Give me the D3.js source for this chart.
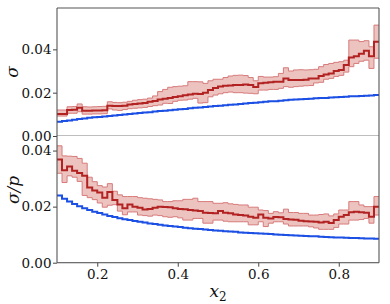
<!DOCTYPE html>
<html><head><meta charset="utf-8">
<script src="https://cdn.jsdelivr.net/npm/d3@7"></script>
<style>
html,body{margin:0;padding:0;background:#fff;}
svg{display:block;}
text{font-family:"DejaVu Serif",serif;fill:#111;}
</style></head>
<body><svg id="chart" width="390" height="304"></svg>
<script>
// ---- data (64 bins of width 0.0125 from 0.1 to 0.9) ----
const xMin = 0.1, xMax = 0.9, nBins = 64;
const xTicks = [0.2, 0.4, 0.6, 0.8];
const xTickLabels = ["0.2", "0.4", "0.6", "0.8"];
const yTicks = [0, 0.02, 0.04];
const yTickLabels = ["0.00", "0.02", "0.04"];

// top panel: sigma
const sigmaRed = [0.0102,0.0102,0.0120,0.0121,0.0130,0.0117,0.0117,0.0118,0.0118,0.0119,
  0.0140,0.0138,0.0139,0.0140,0.0145,0.0148,0.0150,0.0152,0.0158,0.0162,
  0.0168,0.0172,0.0176,0.0180,0.0184,0.0188,0.0192,0.0195,0.0194,0.0200,
  0.0212,0.0222,0.0228,0.0232,0.0233,0.0235,0.0236,0.0238,0.0235,0.0226,
  0.0244,0.0246,0.0248,0.0250,0.0251,0.0266,0.0258,0.0258,0.0259,0.0260,
  0.0266,0.0266,0.0277,0.0284,0.0289,0.0300,0.0305,0.0328,0.0362,0.0368,
  0.0380,0.0394,0.0368,0.0435];
const sigmaRedHi = [0.0120,0.0120,0.0135,0.0136,0.0148,0.0135,0.0134,0.0135,0.0136,0.0137,
  0.0158,0.0155,0.0154,0.0156,0.0160,0.0165,0.0168,0.0170,0.0175,0.0185,
  0.0205,0.0215,0.0225,0.0228,0.0230,0.0232,0.0251,0.0251,0.0250,0.0243,
  0.0255,0.0262,0.0262,0.0270,0.0277,0.0280,0.0281,0.0279,0.0270,0.0255,
  0.0275,0.0272,0.0272,0.0274,0.0289,0.0315,0.0300,0.0305,0.0306,0.0305,
  0.0306,0.0308,0.0320,0.0330,0.0335,0.0340,0.0343,0.0350,0.0443,0.0443,
  0.0436,0.0440,0.0412,0.0512];
const sigmaRedLo = [0.0092,0.0092,0.0105,0.0105,0.0112,0.0101,0.0101,0.0102,0.0102,0.0103,
  0.0125,0.0120,0.0118,0.0122,0.0126,0.0128,0.0130,0.0132,0.0136,0.0140,
  0.0143,0.0151,0.0150,0.0160,0.0165,0.0166,0.0170,0.0174,0.0152,0.0154,
  0.0181,0.0189,0.0195,0.0200,0.0203,0.0200,0.0200,0.0198,0.0197,0.0195,
  0.0212,0.0212,0.0215,0.0215,0.0220,0.0228,0.0225,0.0228,0.0230,0.0232,
  0.0233,0.0245,0.0248,0.0262,0.0266,0.0275,0.0280,0.0295,0.0320,0.0335,
  0.0345,0.0350,0.0312,0.0359];
const sigmaBlue = [0.0066,0.0069,0.0072,0.0075,0.0078,0.0081,0.0084,0.0086,0.0088,0.0090,
  0.0092,0.0095,0.0097,0.0099,0.0102,0.0104,0.0106,0.0108,0.0110,0.0113,
  0.0115,0.0117,0.0119,0.0121,0.0123,0.0125,0.0128,0.0130,0.0132,0.0134,
  0.0136,0.0138,0.0140,0.0142,0.0144,0.0146,0.0148,0.0150,0.0152,0.0154,
  0.0156,0.0158,0.0160,0.0161,0.0163,0.0165,0.0167,0.0168,0.0170,0.0171,
  0.0172,0.0174,0.0175,0.0176,0.0178,0.0179,0.0180,0.0181,0.0183,0.0184,
  0.0185,0.0186,0.0187,0.0189];

// bottom panel: sigma / p
const relRed = [0.0368,0.0330,0.0343,0.0328,0.0320,0.0310,0.0268,0.0258,0.0250,0.0232,
  0.0252,0.0224,0.0208,0.0194,0.0208,0.0200,0.0196,0.0190,0.0192,0.0196,
  0.0200,0.0199,0.0198,0.0194,0.0192,0.0191,0.0188,0.0186,0.0184,0.0178,
  0.0177,0.0176,0.0184,0.0178,0.0176,0.0172,0.0170,0.0168,0.0164,0.0160,
  0.0172,0.0160,0.0158,0.0163,0.0162,0.0156,0.0154,0.0153,0.0150,0.0148,
  0.0147,0.0146,0.0143,0.0146,0.0142,0.0152,0.0164,0.0170,0.0180,0.0182,
  0.0180,0.0178,0.0164,0.0200];
const relRedHi = [0.0417,0.0381,0.0380,0.0379,0.0372,0.0355,0.0305,0.0289,0.0275,0.0270,
  0.0282,0.0255,0.0242,0.0236,0.0236,0.0236,0.0232,0.0230,0.0228,0.0226,
  0.0224,0.0218,0.0218,0.0221,0.0221,0.0226,0.0226,0.0230,0.0218,0.0218,
  0.0218,0.0212,0.0212,0.0214,0.0210,0.0208,0.0206,0.0206,0.0198,0.0198,
  0.0188,0.0186,0.0176,0.0182,0.0178,0.0191,0.0179,0.0179,0.0176,0.0176,
  0.0170,0.0170,0.0172,0.0174,0.0167,0.0174,0.0188,0.0188,0.0218,0.0218,
  0.0206,0.0200,0.0200,0.0236];
const relRedLo = [0.0319,0.0286,0.0310,0.0305,0.0290,0.0240,0.0232,0.0225,0.0213,0.0198,
  0.0205,0.0207,0.0184,0.0171,0.0181,0.0181,0.0170,0.0168,0.0166,0.0170,
  0.0168,0.0164,0.0162,0.0164,0.0160,0.0152,0.0152,0.0158,0.0158,0.0141,
  0.0141,0.0152,0.0152,0.0148,0.0146,0.0146,0.0146,0.0146,0.0135,0.0135,
  0.0146,0.0129,0.0141,0.0146,0.0146,0.0138,0.0131,0.0131,0.0131,0.0131,
  0.0128,0.0124,0.0119,0.0119,0.0119,0.0126,0.0138,0.0138,0.0152,0.0152,
  0.0154,0.0158,0.0141,0.0170];
const relBlue = [0.0240,0.0228,0.0218,0.0209,0.0201,0.0194,0.0188,0.0182,0.0177,0.0172,
  0.0167,0.0163,0.0159,0.0155,0.0152,0.0149,0.0146,0.0143,0.0140,0.0138,
  0.0135,0.0133,0.0131,0.0129,0.0127,0.0125,0.0123,0.0121,0.0120,0.0118,
  0.0117,0.0115,0.0114,0.0112,0.0111,0.0110,0.0108,0.0107,0.0106,0.0105,
  0.0104,0.0103,0.0102,0.0101,0.0100,0.0099,0.0098,0.0097,0.0096,0.0095,
  0.0094,0.0094,0.0093,0.0092,0.0091,0.0090,0.0090,0.0089,0.0088,0.0088,
  0.0087,0.0086,0.0086,0.0085];

// ---- layout ----
const svg = d3.select("#chart");
const L = 57, R = 379;
const topY0 = 8, topY1 = 136, botY0 = 136, botY1 = 262.7;
const edges = d3.range(nBins + 1).map(i => xMin + i * (xMax - xMin) / nBins);

const x = d3.scaleLinear().domain([xMin, xMax]).range([L, R]);
const yTop = d3.scaleLinear().domain([0, 0.0591]).range([topY1, topY0]);
const yBot = d3.scaleLinear().domain([0, 0.0452]).range([botY1, botY0]);

const RED = "#b22222", BAND = "#c0392b", BANDEDGE = "#d77b7b", BLUE = "#1c4fe4";

function stepPts(vals) {
  const p = vals.map((v, i) => [edges[i], v]);
  p.push([edges[nBins], vals[nBins - 1]]);
  return p;
}
function bandPts(lo, hi) {
  const p = lo.map((v, i) => [edges[i], v, hi[i]]);
  p.push([edges[nBins], lo[nBins - 1], hi[nBins - 1]]);
  return p;
}

const defs = svg.append("defs");
function panel(id, y, y0px, y1px, red, hi, lo, blue) {
  defs.append("clipPath").attr("id", id).append("rect")
    .attr("x", L).attr("y", y0px).attr("width", R - L).attr("height", y1px - y0px);
  const g = svg.append("g").attr("clip-path", `url(#${id})`);
  const area = d3.area().curve(d3.curveStepAfter)
    .x(d => x(d[0])).y0(d => y(d[1])).y1(d => y(d[2]));
  const line = d3.line().curve(d3.curveStepAfter).x(d => x(d[0])).y(d => y(d[1]));
  // zero line
  g.append("line").attr("x1", L).attr("x2", R).attr("y1", y(0)).attr("y2", y(0))
    .attr("stroke", "#a8a8a8").attr("stroke-width", 1.6);
  // blue band (thin)
  g.append("path").datum(bandPts(blue.map(v => v - 0.0002), blue.map(v => v + 0.0002)))
    .attr("d", area).attr("fill", BLUE).attr("fill-opacity", 0.2);
  g.append("path").datum(stepPts(blue)).attr("d", line)
    .attr("fill", "none").attr("stroke", BLUE).attr("stroke-width", 2);
  // red band
  g.append("path").datum(bandPts(lo, hi)).attr("d", area)
    .attr("fill", BAND).attr("fill-opacity", 0.3);
  g.append("path").datum(stepPts(hi)).attr("d", line)
    .attr("fill", "none").attr("stroke", BANDEDGE).attr("stroke-width", 1);
  g.append("path").datum(stepPts(lo)).attr("d", line)
    .attr("fill", "none").attr("stroke", BANDEDGE).attr("stroke-width", 1);
  g.append("path").datum(stepPts(red)).attr("d", line)
    .attr("fill", "none").attr("stroke", RED).attr("stroke-width", 2);
  // y axis
  const ax = svg.append("g").attr("transform", `translate(${L},0)`)
    .call(d3.axisLeft(y).tickValues(yTicks).tickFormat((d, i) => yTickLabels[i])
      .tickSize(4).tickPadding(1.5));
  ax.select(".domain").remove();
  ax.selectAll(".tick line").attr("stroke", "#444");
  ax.selectAll(".tick text").attr("font-size", 13.5).attr("font-family", "DejaVu Serif").attr("fill", "#111");
  return g;
}

panel("clipTop", yTop, topY0, topY1, sigmaRed, sigmaRedHi, sigmaRedLo, sigmaBlue);
panel("clipBot", yBot, botY0, botY1, relRed, relRedHi, relRedLo, relBlue);

// x axis on bottom panel
const xa = svg.append("g").attr("transform", `translate(0,${botY1})`)
  .call(d3.axisBottom(x).tickValues(xTicks).tickFormat((d, i) => xTickLabels[i])
    .tickSize(4).tickPadding(2.5));
xa.select(".domain").remove();
xa.selectAll(".tick line").attr("stroke", "#444");
xa.selectAll(".tick text").attr("font-size", 13.5).attr("font-family", "DejaVu Serif").attr("fill", "#111");

// spines
const spine = (x1, y1, x2, y2) => svg.append("line").attr("x1", x1).attr("y1", y1)
  .attr("x2", x2).attr("y2", y2).attr("stroke", "#555").attr("stroke-width", 1.1);
spine(L, topY0, R, topY0);
spine(L, topY0, L, botY1);
spine(R, topY0, R, botY1);
spine(L, botY1, R, botY1);

// axis labels
svg.append("text").attr("transform", "translate(18,72) rotate(-90)")
  .attr("text-anchor", "middle").attr("font-style", "italic").attr("font-size", 17).text("σ");
svg.append("text").attr("transform", "translate(19,190) rotate(-90)")
  .attr("text-anchor", "middle").attr("font-style", "italic").attr("font-size", 17).text("σ/p");
const xl = svg.append("text").attr("x", 218).attr("y", 297).attr("text-anchor", "middle")
  .attr("font-style", "italic").attr("font-size", 17);
xl.append("tspan").text("x");
xl.append("tspan").attr("font-style", "normal").attr("font-size", 12).attr("dy", 4).text("2");
</script></body></html>
